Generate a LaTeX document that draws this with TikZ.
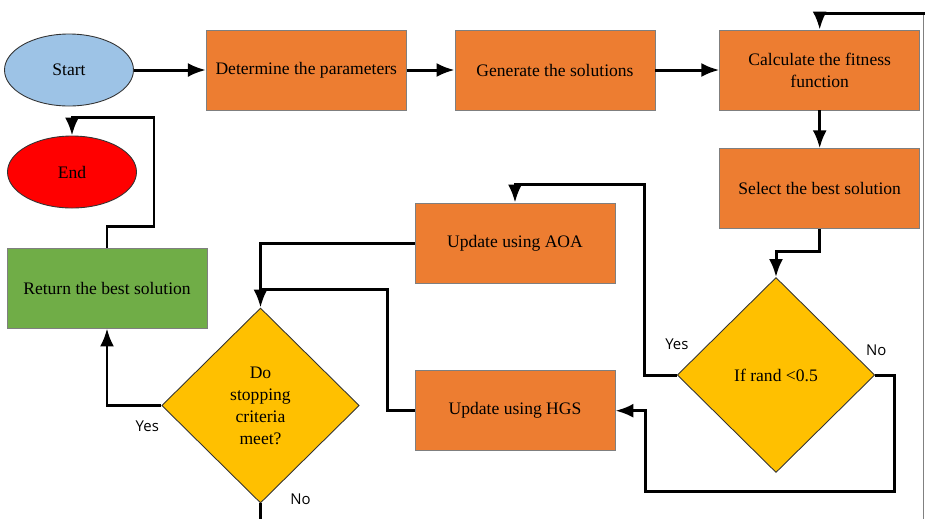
\documentclass[tikz,border=0pt]{standalone}
\usepackage{fontspec}
\setmainfont{Liberation Serif}
\newfontfamily\yesnofont{Open Sans}
\usetikzlibrary{shapes.geometric, arrows.meta, positioning}
\definecolor{morange}{HTML}{ED7D31}
\definecolor{mblue}{HTML}{9DC3E6}
\definecolor{mred}{HTML}{FF0000}
\definecolor{mgreen}{HTML}{70AD47}
\definecolor{myellow}{HTML}{FFC000}
\definecolor{medge}{HTML}{7F7F7F}
\tikzstyle{terminal} = [ellipse, minimum width=2.58cm, minimum height=1.44cm, text centered, draw=black!80, line width=0.5pt]
\tikzstyle{process} = [rectangle, minimum width=4cm, minimum height=1.6cm, text centered, fill=morange, draw=medge, line width=0.4pt]
\tikzstyle{decision} = [diamond, minimum width=3.95cm, minimum height=3.9cm, inner sep=0pt, text centered, fill=myellow, draw=black!80, line width=0.5pt]
\tikzstyle{wire} = [line width=1.7pt, ->, >={Latex[length=3.6mm, width=2.8mm]}]
\tikzstyle{plain} = [line width=1.7pt]
\tikzstyle{answer} = [font=\yesnofont\fontsize{8.5}{10}\selectfont]

\begin{document}
\begin{tikzpicture}[align=center, font=\fontsize{10}{12.5}\selectfont]
  \useasboundingbox (0,0) rectangle (18.5,-10.38);
  \node (start) [terminal, fill=mblue] at (1.38,-1.40) {Start};
  \node (param) [process, right=1.44cm of start] {Determine the parameters};
  \node (gen) [process, right=0.96cm of param] {Generate the solutions};
  \node (fit) [process, right=1.28cm of gen] {Calculate the fitness\\function};
  \node (best) [process, below=0.76cm of fit] {Select the best solution};
  \node (rand) [decision] at (15.52,-7.50) {If rand <0.5};
  \node (aoa) [process] at (10.30,-4.86) {Update using AOA};
  \node (hgs) [process, below=1.74cm of aoa] {Update using HGS};
  \node (stop) [decision] at (5.21,-8.11) {Do\\stopping\\criteria\\meet?};
  \node (ret) [process, fill=mgreen] at (2.14,-5.76) {Return the best solution};
  \node (finish) [terminal, fill=mred] at (1.44,-3.44) {End};
  \coordinate (bottom) at (5.21,-10.38);
  \coordinate (back) at (18.5,-0.26);
  \coordinate (edgetop) at (18.46,-0.30);
  \coordinate (edgebot) at (18.46,-10.38);
  % main chain
  \draw [wire] (start) -- (param);
  \draw [wire] (param) -- (gen);
  \draw [wire] (gen) -- (fit);
  \draw [wire] (fit) -- (best);
  \draw [wire] (best.south) -- ++(0,-0.44) -| (rand.north);
  % branches of the random test
  \draw [wire] (rand.west) -- ++(-0.64,0) -- ++(0,3.82) -| (aoa.north);
  \draw [wire] (rand.east) -- ++(0.38,0) -- ++(0,-2.32) -- ++(-4.98,0) |- (hgs.east);
  \draw [wire] (aoa.west) -| (stop.north);
  \draw [plain] (hgs.west) -- ++(-0.54,0) |- ([yshift=0.36cm]stop.north);
  % stopping test
  \draw [wire] (stop.west) -| (ret.south);
  \draw [plain] (stop.south) -- (bottom);
  \draw [wire] (ret.north) -- ++(0,0.42) -- ++(0.94,0) -- ++(0,2.18) -| (finish.north);
  \draw [wire] (back) -| (fit.north);
  \draw [gray, line width=0.5pt] (edgetop) -- (edgebot);
  % labels
  \node (yesr) [answer] at ([yshift=0.62cm]rand.west) {Yes};
  \node (nor) [answer] at ([shift={(0.02,0.50)}]rand.east) {No};
  \node (yess) [answer] at ([shift={(-0.28,-0.42)}]stop.west) {Yes};
  \node (nos) [answer] at ([shift={(0.80,0.08)}]stop.south) {No};
\end{tikzpicture}
\end{document}
